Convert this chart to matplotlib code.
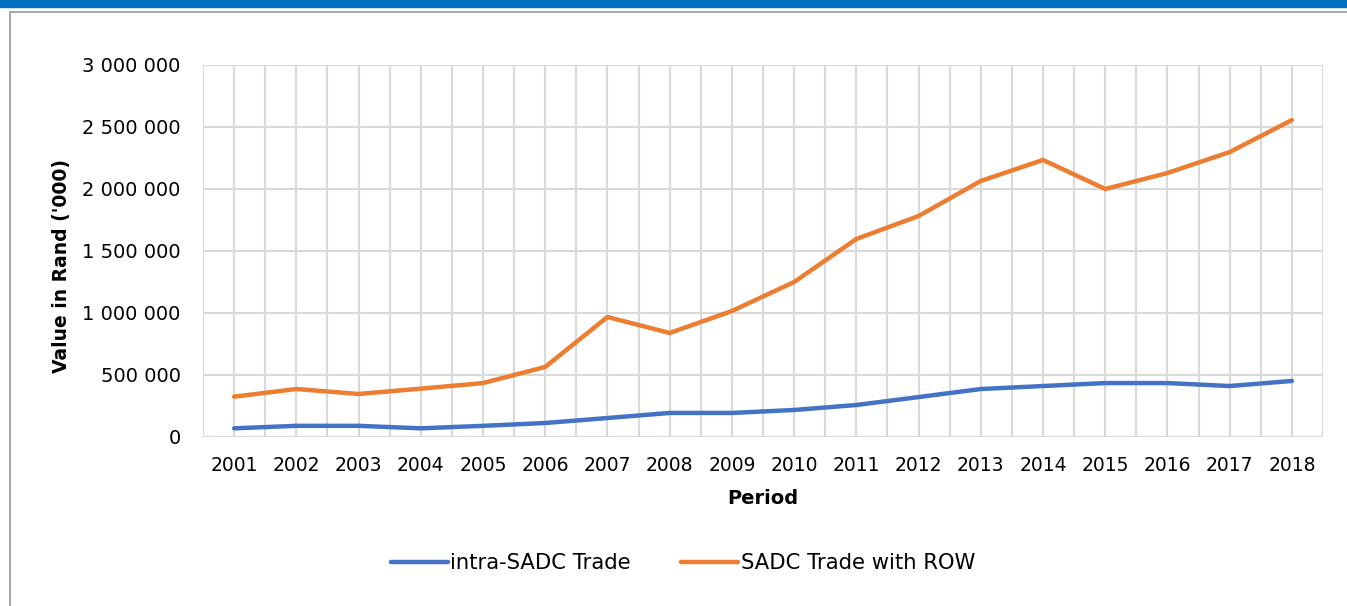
import numpy as np
import matplotlib.pyplot as plt
from matplotlib.lines import Line2D
from matplotlib.patches import Rectangle
from matplotlib.ticker import FuncFormatter, MultipleLocator

years = list(range(2001, 2019))
intra_sadc = [70000, 90000, 90000, 70000, 90000, 113000, 153000, 194000, 194000,
              218000, 258000, 322000, 387000, 411000, 435000, 435000, 411000, 452000]
sadc_row = [325000, 387000, 347000, 390000, 435000, 565000, 968000, 839000, 1016000,
            1250000, 1597000, 1782000, 2065000, 2234000, 2000000, 2129000, 2298000, 2556000]
y_ticks = [0, 500000, 1000000, 1500000, 2000000, 2500000, 3000000]

plt.rcParams['font.family'] = ['DejaVu Sans']

W, H = 1347, 606
fig = plt.figure(figsize=(W / 100, H / 100), dpi=100)

# top banner and frame
fig.patches.append(Rectangle((0, 1 - 7 / H), 1, 7 / H, transform=fig.transFigure,
                             color='#0070C0', zorder=0))
fig.add_artist(Line2D([9.5 / W, 9.5 / W], [0, 1 - 11.5 / H], transform=fig.transFigure,
                      color='#a0a0a0', lw=1.3))
fig.add_artist(Line2D([9.5 / W, 1], [1 - 11.5 / H, 1 - 11.5 / H], transform=fig.transFigure,
                      color='#a0a0a0', lw=1.3))

ax = fig.add_axes([203 / W, (H - 437) / H, 1120 / W, 372 / H])

ax.plot(years, intra_sadc, color='#4472C4', lw=3.2, solid_capstyle='round',
        label='intra-SADC Trade', zorder=3)
ax.plot(years, sadc_row, color='#ED7D31', lw=3.2, solid_capstyle='round',
        label='SADC Trade with ROW', zorder=3)

ax.set_xlim(years[0] - 0.5, years[-1] + 0.5)
ax.set_ylim(0, 3000000)
ax.set_yticks(y_ticks)
ax.yaxis.set_major_formatter(FuncFormatter(lambda v, p: f'{int(v):,}'.replace(',', ' ')))
ax.set_xticks(years)
ax.xaxis.set_minor_locator(MultipleLocator(0.5))

ax.grid(True, which='both', color='#d9d9d9', lw=1.5)
ax.grid(False, axis='y', which='minor')
ax.set_axisbelow(True)
for s in ax.spines.values():
    s.set_visible(False)
ax.tick_params(which='both', length=0)
ax.tick_params(axis='y', labelsize=14, pad=16)
ax.tick_params(axis='x', labelsize=13.5, pad=14)

ax.set_xlabel('Period', fontsize=14, fontweight='bold', labelpad=10)
ax.set_ylabel("Value in Rand ('000)", fontsize=13.5, fontweight='bold', labelpad=14)
ax.yaxis.set_label_coords(-132 / 1120, 0.46)

fig.legend(loc='center', bbox_to_anchor=(683 / W, 1 - 563 / H), ncol=2, frameon=False,
           fontsize=15.2, handlelength=2.7, handletextpad=0.12, columnspacing=2.4)

fig.savefig('out.png', dpi=100)
